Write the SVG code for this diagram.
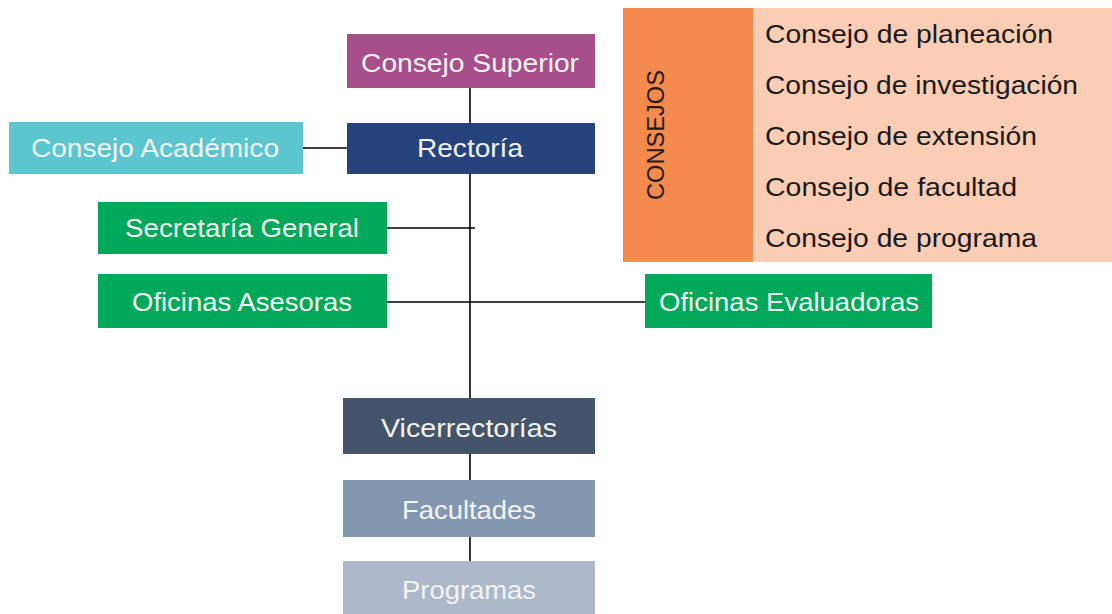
<svg xmlns="http://www.w3.org/2000/svg" width="1112" height="614" viewBox="0 0 1112 614">
<style>
.lbl{font-family:"Liberation Sans",Arial,sans-serif;font-size:26px;fill:#F2F4F2;text-anchor:middle}
.item{font-family:"Liberation Sans",Arial,sans-serif;font-size:25px;fill:#1A1A1A}
.conn{stroke:#000;stroke-width:1.6;fill:none}
</style>
<rect width="1112" height="614" fill="#fff"/>
<g id="connectors">
<path class="conn" d="M470 88V123"/>
<path class="conn" d="M303 148H347"/>
<path class="conn" d="M470 174V398"/>
<path class="conn" d="M387 228H475"/>
<path class="conn" d="M387 302H645"/>
<path class="conn" d="M470 454V480"/>
<path class="conn" d="M470 537V561"/>
</g>
<g id="consejo-superior">
<rect x="347" y="34" width="248" height="54" fill="#A64F8A"/>
<text class="lbl" x="470" y="72" textLength="218" lengthAdjust="spacingAndGlyphs">Consejo Superior</text>
</g>
<g id="rectoria">
<rect x="347" y="123" width="248" height="51" fill="#26437E"/>
<text class="lbl" x="470" y="157" textLength="106" lengthAdjust="spacingAndGlyphs">Rectoría</text>
</g>
<g id="consejo-academico">
<rect x="9" y="122" width="294" height="52" fill="#5BC5D0"/>
<text class="lbl" x="155" y="157" textLength="248" lengthAdjust="spacingAndGlyphs">Consejo Académico</text>
</g>
<g id="secretaria-general">
<rect x="98" y="202" width="289" height="52" fill="#00A85A"/>
<text class="lbl" x="242" y="237" textLength="234" lengthAdjust="spacingAndGlyphs">Secretaría General</text>
</g>
<g id="oficinas-asesoras">
<rect x="98" y="274" width="289" height="54" fill="#00A85A"/>
<text class="lbl" x="242" y="311" textLength="220" lengthAdjust="spacingAndGlyphs">Oficinas Asesoras</text>
</g>
<g id="oficinas-evaluadoras">
<rect x="645" y="274" width="287" height="54" fill="#00A85A"/>
<text class="lbl" x="789" y="311" textLength="260" lengthAdjust="spacingAndGlyphs">Oficinas Evaluadoras</text>
</g>
<g id="vicerrectorias">
<rect x="343" y="398" width="252" height="56" fill="#44546A"/>
<text class="lbl" x="469" y="437" textLength="176" lengthAdjust="spacingAndGlyphs">Vicerrectorías</text>
</g>
<g id="facultades">
<rect x="343" y="480" width="252" height="57" fill="#8497B0"/>
<text class="lbl" x="469" y="519" textLength="134" lengthAdjust="spacingAndGlyphs">Facultades</text>
</g>
<g id="programas">
<rect x="343" y="561" width="252" height="60" fill="#ADB9CA"/>
<text class="lbl" x="469" y="599" textLength="134" lengthAdjust="spacingAndGlyphs">Programas</text>
</g>
<g id="consejos">
<rect x="623" y="8" width="130" height="254" fill="#F58A4F"/>
<rect x="753" y="8" width="359" height="254" fill="#FBCDB5"/>
<text transform="translate(664 135) rotate(-90)" font-family="Liberation Sans, Arial, sans-serif" font-size="24" fill="#2A1A10" text-anchor="middle" textLength="130" lengthAdjust="spacingAndGlyphs">CONSEJOS</text>
<text class="item" x="765" y="43" textLength="288" lengthAdjust="spacingAndGlyphs">Consejo de planeación</text>
<text class="item" x="765" y="94" textLength="313" lengthAdjust="spacingAndGlyphs">Consejo de investigación</text>
<text class="item" x="765" y="145" textLength="272" lengthAdjust="spacingAndGlyphs">Consejo de extensión</text>
<text class="item" x="765" y="196" textLength="252" lengthAdjust="spacingAndGlyphs">Consejo de facultad</text>
<text class="item" x="765" y="247" textLength="272" lengthAdjust="spacingAndGlyphs">Consejo de programa</text>
</g>
</svg>
